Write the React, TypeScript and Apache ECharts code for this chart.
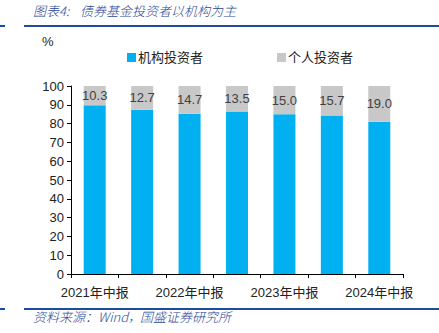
import React, { useEffect, useRef } from "react";
import * as echarts from "echarts";

const categories = ["2021年中报", "2021年报", "2022年中报", "2022年报", "2023年中报", "2023年报", "2024年中报"];
const individual = [10.3, 12.7, 14.7, 13.5, 15.0, 15.7, 19.0];
const institutional = [89.7, 87.3, 85.3, 86.5, 85.0, 84.3, 81.0];
const yTicks = { min: 0, max: 100, interval: 10 };

const FONT = "Arial, 'Liberation Sans', 'Noto Sans CJK SC', sans-serif";
const CJK = "'Noto Sans CJK SC', sans-serif";
const BLUE = "#00B0F0";
const GRAY = "#C8C8C8";
const NAVY = "#1F4B9E";
const TITLE_COLOR = "#2A4896";

export default function App() {
  const ref = useRef<HTMLDivElement>(null);
  useEffect(() => {
    if (!ref.current) return;
    const chart = echarts.init(ref.current, undefined, { renderer: "svg" });
    const t = (text: string, left: number, top: number, fontSize = 13) => ({
      type: "text",
      left,
      top,
      style: { text, fontSize, fontStyle: "italic", fontWeight: 300, fill: TITLE_COLOR, fontFamily: CJK },
    });
    chart.setOption({
      animation: false,
      backgroundColor: "#fff",
      textStyle: { fontFamily: FONT },
      grid: { left: 71, right: 36, top: 86, bottom: 59, containLabel: false },
      legend: {
        top: 46,
        left: 122,
        itemWidth: 9,
        itemHeight: 9,
        itemGap: 74,
        icon: "rect",
        textStyle: { fontSize: 13, color: "#222", fontFamily: FONT, padding: [0, 0, 0, -3] },
        data: ["机构投资者", "个人投资者"],
      },
      xAxis: {
        type: "category",
        data: categories,
        axisLine: { lineStyle: { color: "#000", width: 1 } },
        axisTick: { show: true, alignWithLabel: false, interval: 0, length: 4, lineStyle: { color: "#000" } },
        axisLabel: { interval: 1, fontSize: 13, color: "#222", margin: 12, fontFamily: FONT },
      },
      yAxis: {
        type: "value",
        min: yTicks.min,
        max: yTicks.max,
        interval: yTicks.interval,
        splitLine: { show: false },
        axisLine: { show: true, lineStyle: { color: "#000", width: 1 } },
        axisTick: { show: true, length: 4, lineStyle: { color: "#000" } },
        axisLabel: { fontSize: 13, color: "#222", margin: 7, fontFamily: FONT },
      },
      series: [
        {
          name: "机构投资者",
          type: "bar",
          stack: "total",
          barWidth: 22,
          data: institutional,
          itemStyle: { color: BLUE },
        },
        {
          name: "个人投资者",
          type: "bar",
          stack: "total",
          barWidth: 22,
          data: individual,
          itemStyle: { color: GRAY },
          label: {
            show: true,
            position: "inside",
            fontSize: 13,
            color: "#404040",
            fontFamily: FONT,
            formatter: (p: any) => Number(p.value).toFixed(1),
          },
        },
      ],
      graphic: [
        t("图表4:", 33, 4),
        t("债券基金投资者以机构为主", 80, 4),
        { type: "line", shape: { x1: 0, y1: 26, x2: 5, y2: 26 }, style: { stroke: NAVY, lineWidth: 2 } },
        { type: "line", shape: { x1: 24, y1: 26, x2: 439, y2: 26 }, style: { stroke: NAVY, lineWidth: 2 } },
        { type: "line", shape: { x1: 0, y1: 309, x2: 5, y2: 309 }, style: { stroke: NAVY, lineWidth: 2 } },
        { type: "line", shape: { x1: 24, y1: 309, x2: 439, y2: 309 }, style: { stroke: NAVY, lineWidth: 2 } },
        t("资料来源：", 33, 310),
        t("Wind，", 98, 310),
        t("国盛证券研究所", 140, 310),
        {
          type: "text",
          left: 42,
          top: 35,
          style: { text: "%", fontSize: 13, fill: "#222", fontFamily: FONT },
        },
      ],
    });
    return () => chart.dispose();
  }, []);
  return <div ref={ref} style={{ width: 439, height: 333, position: "absolute", left: 0, top: 0 }} />;
}
